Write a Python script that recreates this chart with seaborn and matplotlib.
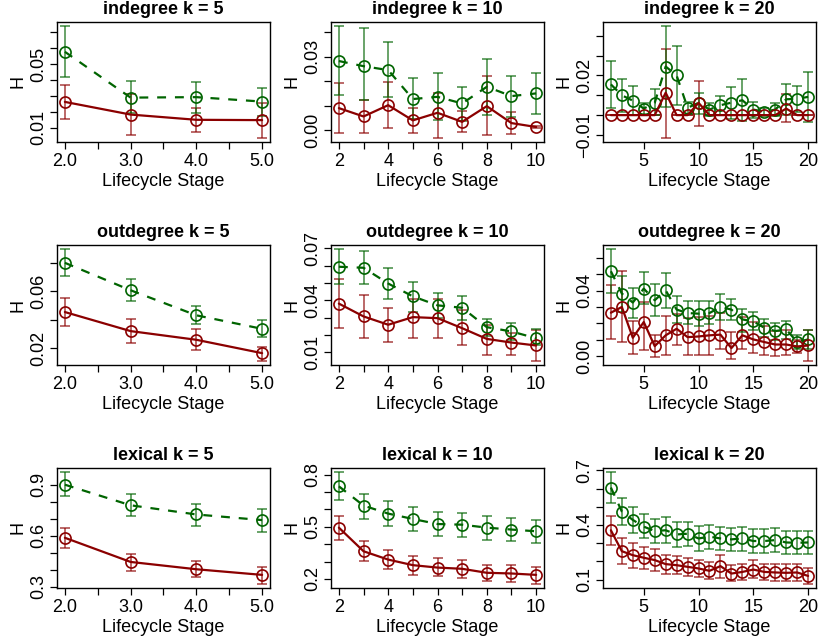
import matplotlib
matplotlib.use("Agg")
import matplotlib.pyplot as plt
import seaborn as sns

sns.set_style("ticks")
plt.rcParams["font.family"] = ["Liberation Sans", "DejaVu Sans"]
plt.rcParams["text.color"] = "black"
plt.rcParams["axes.labelcolor"] = "black"
plt.rcParams["xtick.color"] = "black"
plt.rcParams["ytick.color"] = "black"

# x values (lifecycle stages)
stage5 = [2, 3, 4, 5]
stage10 = [2, 3, 4, 5, 6, 7, 8, 9, 10]
stage20 = [2, 3, 4, 5, 6, 7, 8, 9, 10, 11, 12, 13, 14, 15, 16, 17, 18, 19, 20]

# indegree k = 5
in5_red = [0.0262, 0.0182, 0.0149, 0.0147]
in5_red_lo = [0.0153, 0.0050, 0.0073, 0.0037]
in5_red_hi = [0.0370, 0.0314, 0.0226, 0.0254]
in5_grn = [0.0578, 0.0289, 0.0292, 0.0264]
in5_grn_lo = [0.0420, 0.0194, 0.0194, 0.0170]
in5_grn_hi = [0.0738, 0.0394, 0.0386, 0.0352]

# indegree k = 10
in10_red = [0.0091, 0.0057, 0.0103, 0.0041, 0.0072, 0.0035, 0.0099, 0.0030, 0.0014]
in10_red_lo = [-0.0010, -0.0011, 0.0010, -0.0012, -0.0029, -0.0008, -0.0020, -0.0015, 0.0009]
in10_red_hi = [0.0193, 0.0125, 0.0198, 0.0090, 0.0154, 0.0080, 0.0221, 0.0077, 0.0019]
in10_grn = [0.0283, 0.0262, 0.0246, 0.0128, 0.0137, 0.0110, 0.0178, 0.0140, 0.0151]
in10_grn_lo = [0.0144, 0.0125, 0.0137, 0.0046, 0.0043, 0.0039, 0.0064, 0.0053, 0.0067]
in10_grn_hi = [0.0424, 0.0417, 0.0359, 0.0212, 0.0234, 0.0179, 0.0293, 0.0224, 0.0236]

# indegree k = 20
in20_red = [0, 0, 0, 0, 0, 0.0113, 0, 0, 0.0062, 0, 0, 0, 0, 0, 0, 0, 0.0033, 0, 0]
in20_red_lo = [0, 0, 0, 0, 0, -0.0113, 0, 0, -0.0055, 0, 0, 0, 0, 0, 0, 0, -0.0037, 0, 0]
in20_red_hi = [0, 0, 0, 0, 0, 0.0333, 0, 0, 0.0170, 0, 0, 0, 0, 0, 0, 0, 0.0108, 0, 0]
in20_grn = [0.0155, 0.0100, 0.0073, 0.0033, 0.0062, 0.0245, 0.0200, 0.0037, 0.0062, 0.0028,
            0.0050, 0.0063, 0.0075, 0.0028, 0.0017, 0.0028, 0.0080, 0.0082, 0.0092]
in20_grn_lo = [0.0038, 0.0017, 0.0000, 0.0005, 0.0000, 0.0040, 0.0050, 0.0005, 0.0008, -0.0005,
               0.0000, -0.0020, -0.0030, -0.0012, -0.0005, -0.0003, 0.0000, 0.0017, -0.0037]
in20_grn_hi = [0.0273, 0.0183, 0.0147, 0.0063, 0.0130, 0.0447, 0.0350, 0.0067, 0.0113, 0.0060,
               0.0098, 0.0143, 0.0183, 0.0068, 0.0038, 0.0062, 0.0158, 0.0145, 0.0217]

# outdegree k = 5
out5_red = [0.0454, 0.0320, 0.0259, 0.0165]
out5_red_lo = [0.0353, 0.0238, 0.0184, 0.0113]
out5_red_hi = [0.0553, 0.0402, 0.0332, 0.0207]
out5_grn = [0.0800, 0.0607, 0.0431, 0.0336]
out5_grn_lo = [0.0706, 0.0529, 0.0372, 0.0278]
out5_grn_hi = [0.0894, 0.0687, 0.0496, 0.0395]

# outdegree k = 10
out10_red = [0.0381, 0.0307, 0.0259, 0.0303, 0.0297, 0.0239, 0.0177, 0.0156, 0.0139]
out10_red_lo = [0.0239, 0.0185, 0.0162, 0.0185, 0.0185, 0.0139, 0.0086, 0.0086, 0.0052]
out10_red_hi = [0.0526, 0.0429, 0.0357, 0.0410, 0.0406, 0.0342, 0.0255, 0.0210, 0.0230]
out10_grn = [0.0594, 0.0588, 0.0497, 0.0423, 0.0371, 0.0357, 0.0245, 0.0220, 0.0181]
out10_grn_lo = [0.0497, 0.0493, 0.0410, 0.0332, 0.0297, 0.0288, 0.0195, 0.0168, 0.0139]
out10_grn_hi = [0.0694, 0.0686, 0.0584, 0.0506, 0.0444, 0.0425, 0.0294, 0.0270, 0.0232]

# outdegree k = 20
out20_red = [0.0265, 0.0300, 0.0112, 0.0208, 0.0061, 0.0127, 0.0167, 0.0116, 0.0120, 0.0127,
             0.0131, 0.0049, 0.0127, 0.0102, 0.0086, 0.0071, 0.0071, 0.0059, 0.0065]
out20_red_lo = [0.0102, 0.0086, 0.0014, 0.0039, -0.0006, 0.0004, 0.0065, 0.0004, 0.0004, 0.0004,
                0.0045, -0.0020, 0.0045, 0.0018, 0.0004, -0.0002, 0.0004, 0.0018, -0.0027]
out20_red_hi = [0.0433, 0.0520, 0.0212, 0.0331, 0.0127, 0.0243, 0.0259, 0.0235, 0.0239, 0.0243,
                0.0265, 0.0147, 0.0239, 0.0208, 0.0182, 0.0153, 0.0157, 0.0100, 0.0157]
out20_grn = [0.0518, 0.0382, 0.0327, 0.0412, 0.0341, 0.0402, 0.0284, 0.0263, 0.0259, 0.0263,
             0.0300, 0.0284, 0.0224, 0.0212, 0.0173, 0.0153, 0.0163, 0.0086, 0.0102]
out20_grn_lo = [0.0386, 0.0269, 0.0235, 0.0316, 0.0243, 0.0294, 0.0202, 0.0194, 0.0184, 0.0194,
                0.0218, 0.0218, 0.0147, 0.0157, 0.0116, 0.0100, 0.0106, 0.0045, 0.0045]
out20_grn_hi = [0.0651, 0.0488, 0.0418, 0.0514, 0.0443, 0.0510, 0.0367, 0.0335, 0.0335, 0.0335,
                0.0382, 0.0351, 0.0286, 0.0269, 0.0229, 0.0202, 0.0214, 0.0127, 0.0157]

# lexical k = 5
lex5_red = [0.588, 0.446, 0.403, 0.370]
lex5_red_lo = [0.530, 0.394, 0.355, 0.319]
lex5_red_hi = [0.645, 0.495, 0.452, 0.417]
lex5_grn = [0.900, 0.779, 0.725, 0.692]
lex5_grn_lo = [0.832, 0.715, 0.660, 0.623]
lex5_grn_hi = [0.972, 0.847, 0.789, 0.758]

# lexical k = 10
lex10_red = [0.495, 0.359, 0.311, 0.279, 0.265, 0.258, 0.235, 0.231, 0.223]
lex10_red_lo = [0.426, 0.302, 0.258, 0.225, 0.215, 0.206, 0.187, 0.183, 0.173]
lex10_red_hi = [0.564, 0.417, 0.365, 0.330, 0.321, 0.307, 0.282, 0.279, 0.269]
lex10_grn = [0.733, 0.622, 0.576, 0.545, 0.516, 0.512, 0.495, 0.484, 0.474]
lex10_grn_lo = [0.656, 0.547, 0.503, 0.474, 0.445, 0.442, 0.426, 0.417, 0.407]
lex10_grn_hi = [0.813, 0.691, 0.647, 0.614, 0.583, 0.578, 0.564, 0.551, 0.541]

# lexical k = 20
lex20_red = [0.371, 0.256, 0.234, 0.220, 0.207, 0.185, 0.179, 0.170, 0.161, 0.148,
             0.174, 0.133, 0.142, 0.155, 0.142, 0.139, 0.137, 0.139, 0.120]
lex20_red_lo = [0.290, 0.188, 0.164, 0.157, 0.148, 0.133, 0.129, 0.120, 0.115, 0.102,
                0.111, 0.091, 0.096, 0.106, 0.096, 0.093, 0.093, 0.093, 0.078]
lex20_red_hi = [0.452, 0.326, 0.299, 0.277, 0.267, 0.234, 0.231, 0.220, 0.210, 0.198,
                0.234, 0.179, 0.188, 0.207, 0.188, 0.185, 0.183, 0.185, 0.166]
lex20_grn = [0.606, 0.474, 0.428, 0.391, 0.367, 0.371, 0.348, 0.352, 0.326, 0.336,
             0.326, 0.321, 0.326, 0.312, 0.312, 0.317, 0.304, 0.302, 0.304]
lex20_grn_lo = [0.523, 0.400, 0.354, 0.326, 0.299, 0.299, 0.280, 0.286, 0.258, 0.267,
                0.262, 0.256, 0.256, 0.244, 0.244, 0.253, 0.238, 0.238, 0.238]
lex20_grn_hi = [0.689, 0.547, 0.501, 0.459, 0.433, 0.442, 0.415, 0.415, 0.396, 0.400,
                0.391, 0.385, 0.391, 0.376, 0.376, 0.382, 0.367, 0.367, 0.367]

titles = ["indegree k = 5", "indegree k = 10", "indegree k = 20",
          "outdegree k = 5", "outdegree k = 10", "outdegree k = 20",
          "lexical k = 5", "lexical k = 10", "lexical k = 20"]

# y tick positions and which of them carry a label
yticks = [
    ([0.01, 0.02, 0.03, 0.04, 0.05, 0.06, 0.07], ["0.01", "", "", "", "0.05", "", ""]),
    ([0.00, 0.01, 0.02, 0.03, 0.04], ["0.00", "", "", "0.03", ""]),
    ([-0.01, 0.00, 0.01, 0.02, 0.03, 0.04], ["\u22120.01", "", "", "0.02", "", ""]),
    ([0.02, 0.04, 0.06, 0.08], ["0.02", "", "0.06", ""]),
    ([0.01, 0.02, 0.03, 0.04, 0.05, 0.06, 0.07], ["0.01", "", "", "0.04", "", "", "0.07"]),
    ([0.00, 0.01, 0.02, 0.03, 0.04, 0.05, 0.06], ["0.00", "", "", "", "0.04", "", ""]),
    ([0.3, 0.4, 0.5, 0.6, 0.7, 0.8, 0.9], ["0.3", "", "", "0.6", "", "", "0.9"]),
    ([0.2, 0.3, 0.4, 0.5, 0.6, 0.7, 0.8], ["0.2", "", "", "0.5", "", "", "0.8"]),
    ([0.1, 0.2, 0.3, 0.4, 0.5, 0.6, 0.7], ["0.1", "", "", "0.4", "", "", "0.7"]),
]

xticks = {
    5: ([2, 2.5, 3, 3.5, 4, 4.5, 5], ["2.0", "", "3.0", "", "4.0", "", "5.0"]),
    10: ([2, 3, 4, 5, 6, 7, 8, 9, 10], ["2", "", "4", "", "6", "", "8", "", "10"]),
    20: ([5, 10, 15, 20], ["5", "10", "15", "20"]),
}

panels = [
    (5, stage5, in5_red, in5_red_lo, in5_red_hi, in5_grn, in5_grn_lo, in5_grn_hi),
    (10, stage10, in10_red, in10_red_lo, in10_red_hi, in10_grn, in10_grn_lo, in10_grn_hi),
    (20, stage20, in20_red, in20_red_lo, in20_red_hi, in20_grn, in20_grn_lo, in20_grn_hi),
    (5, stage5, out5_red, out5_red_lo, out5_red_hi, out5_grn, out5_grn_lo, out5_grn_hi),
    (10, stage10, out10_red, out10_red_lo, out10_red_hi, out10_grn, out10_grn_lo, out10_grn_hi),
    (20, stage20, out20_red, out20_red_lo, out20_red_hi, out20_grn, out20_grn_lo, out20_grn_hi),
    (5, stage5, lex5_red, lex5_red_lo, lex5_red_hi, lex5_grn, lex5_grn_lo, lex5_grn_hi),
    (10, stage10, lex10_red, lex10_red_lo, lex10_red_hi, lex10_grn, lex10_grn_lo, lex10_grn_hi),
    (20, stage20, lex20_red, lex20_red_lo, lex20_red_hi, lex20_grn, lex20_grn_lo, lex20_grn_hi),
]

RED = "#8B0000"
GREEN = "#006400"
W, H = 820, 641
col_left = [57, 331, 603]
row_top = [22, 245, 468]
box_w, box_h = 213, 120

fig = plt.figure(figsize=(8.2, 6.41), dpi=100)

for i, (k, xs, r, rlo, rhi, g, glo, ghi) in enumerate(panels):
    row, col = divmod(i, 3)
    ax = fig.add_axes([col_left[col] / W, 1 - (row_top[row] + box_h) / H, box_w / W, box_h / H])

    for m, lo, hi, c in [(r, rlo, rhi, RED), (g, glo, ghi, GREEN)]:
        err = [[mi - l for mi, l in zip(m, lo)], [h - mi for mi, h in zip(m, hi)]]
        ax.errorbar(xs, m, yerr=err, fmt="none", ecolor=c, elinewidth=1.1,
                    capsize=3.5, capthick=1.1, alpha=0.75, zorder=2)

    sns.lineplot(x=xs, y=g, ax=ax, color=GREEN, linewidth=1.6, linestyle=(0, (4, 4)),
                 marker="o", markersize=8, markerfacecolor="none",
                 markeredgecolor=GREEN, markeredgewidth=1.2, zorder=3)
    sns.lineplot(x=xs, y=r, ax=ax, color=RED, linewidth=1.6,
                 marker="o", markersize=8, markerfacecolor="none",
                 markeredgecolor=RED, markeredgewidth=1.2, zorder=4)

    # R style limits: data range plus 4% on each side
    x0, x1 = min(xs), max(xs)
    ax.set_xlim(x0 - 0.04 * (x1 - x0), x1 + 0.04 * (x1 - x0))
    y0, y1 = min(rlo + glo), max(rhi + ghi)
    ax.set_ylim(y0 - 0.04 * (y1 - y0), y1 + 0.04 * (y1 - y0))

    xt, xl = xticks[k]
    ax.set_xticks(xt, labels=xl)
    yt, yl = yticks[i]
    ax.set_yticks(yt, labels=yl, rotation=90, va="center")

    ax.tick_params(axis="both", labelsize=13, length=5, width=0.9, color="black",
                   labelcolor="black", direction="out", pad=3)
    ax.tick_params(axis="y", pad=2)
    for s in ax.spines.values():
        s.set_color("black")
        s.set_linewidth(1.0)
        s.set_visible(True)

    ax.set_title(titles[i], fontsize=13, fontweight="bold", pad=6, color="black")
    ax.set_xlabel("Lifecycle Stage", fontsize=13, labelpad=2, color="black")
    ax.set_ylabel("H", fontsize=13, labelpad=3, color="black")

fig.savefig("out.png", dpi=100)
